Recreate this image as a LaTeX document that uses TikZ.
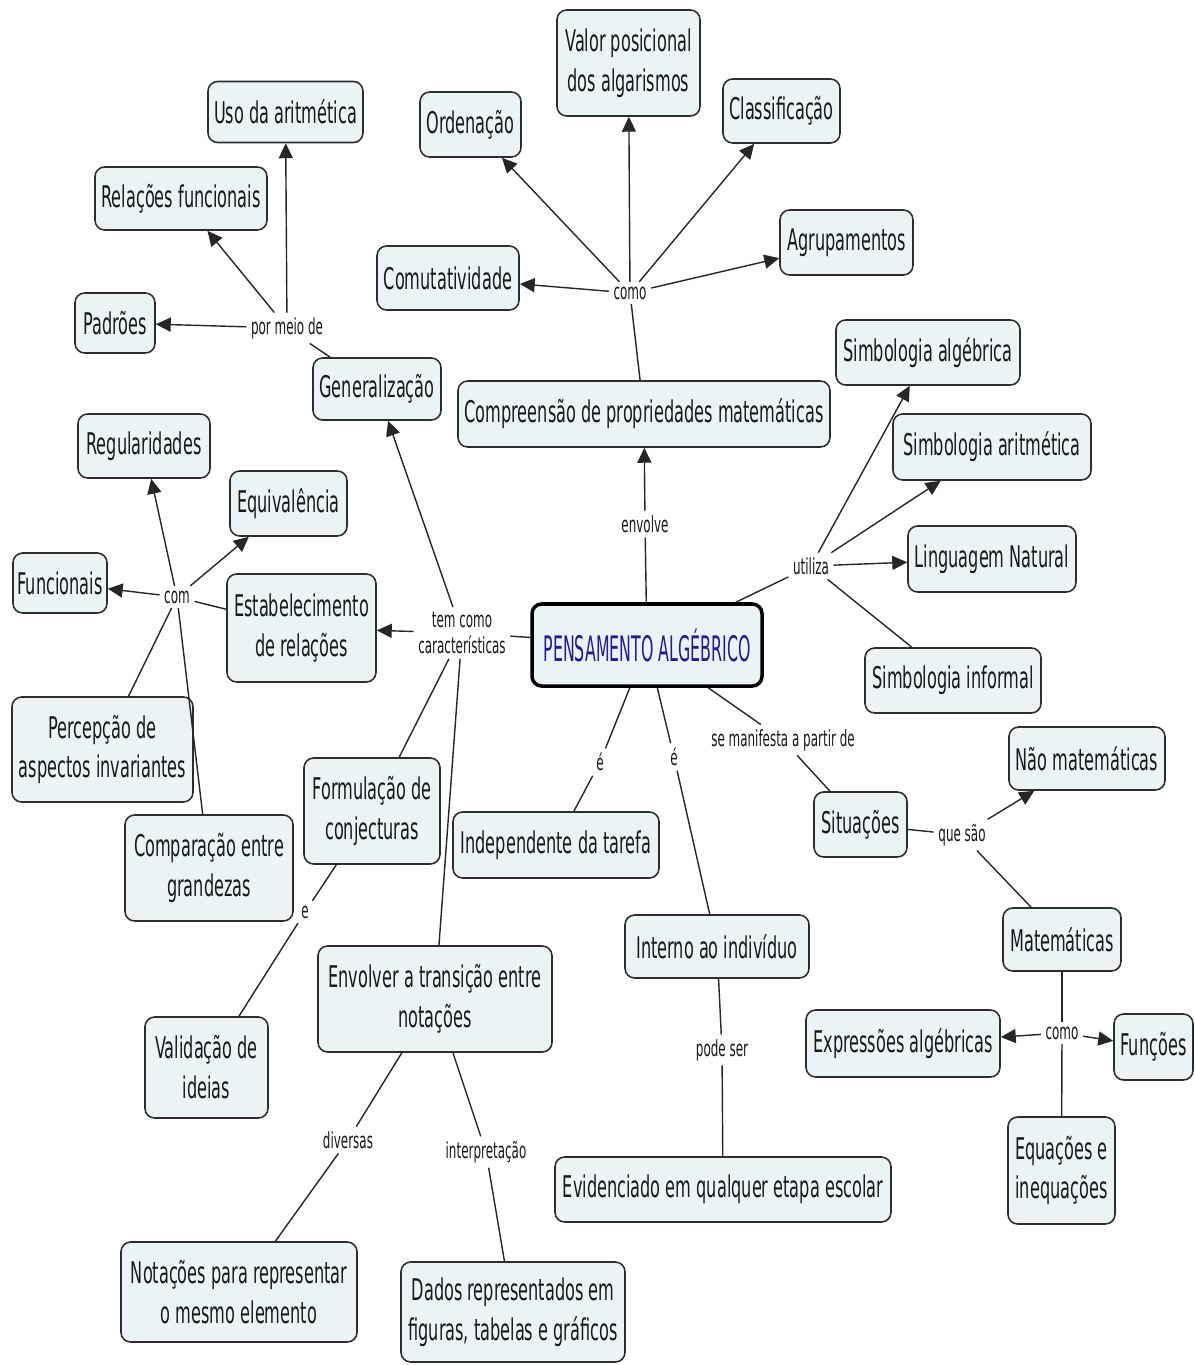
\documentclass[tikz,border=0pt]{standalone}
\usepackage{fontspec}
\setmainfont{DejaVu Sans}[FakeStretch=0.54]
\newfontfamily\pafont{DejaVu Sans}[FakeStretch=0.45]
\usetikzlibrary{arrows.meta}
\definecolor{boxfill}{RGB}{235,243,246}
\definecolor{boxline}{RGB}{45,45,45}
\definecolor{pablue}{RGB}{30,30,140}
\newcommand{\px}{0.02}
\newcommand{\cbox}[5]{\node[concept, minimum width=#3*\px cm, minimum height=#4*\px cm] (#1) at (#2) {#5};}
\newcommand{\lword}[3]{\node[linkword] (#1) at (#2) {#3};}
\tikzset{
  concept/.style={draw=boxline, fill=boxfill, line width=0.9pt, rounded corners=5.5pt,
    align=center, inner sep=2pt, text=black!90, font=\fontsize{17}{22.7}\selectfont},
  linkword/.style={align=center, inner sep=2.5pt, text=black!90,
    font=\fontsize{12.6}{15}\selectfont},
  conn/.style={draw=black!85, line width=0.8pt},
  connarr/.style={conn, -{Triangle[length=8.5pt,width=8pt]}},
}
\begin{document}
\begin{tikzpicture}[x=\px cm, y=-\px cm]
    \useasboundingbox (0,0) rectangle (1194,1365);

    % concepts
    \node[concept, draw=black, line width=2pt, minimum width=230*\px cm, minimum height=82*\px cm,
      text=pablue, font=\pafont\fontsize{20}{24}\selectfont] (pa) at (647,645) {PENSAMENTO ALGÉBRICO};
    \cbox{compr}{644,414}{372}{66}{Compreensão de propriedades matemáticas}
    \cbox{orden}{470.5,124.5}{101}{65}{Ordenação}
    \cbox{valor}{628.5,63}{143}{106}{Valor posicional\\dos algarismos}
    \cbox{classif}{781.5,111}{117}{64}{Classificação}
    \cbox{agrup}{846.5,242.5}{133}{65}{Agrupamentos}
    \cbox{comut}{448,278}{142}{64}{Comutatividade}
    \cbox{uso}{285.5,112}{155}{61}{Uso da aritmética}
    \cbox{relfun}{181,198.5}{172}{63}{Relações funcionais}
    \cbox{padroes}{115,323}{80}{60}{Padrões}
    \cbox{gen}{377,389}{128}{62}{Generalização}
    \cbox{simbalg}{928,352.5}{184}{65}{Simbologia algébrica}
    \cbox{simbar}{992,447}{198}{66}{Simbologia aritmética}
    \cbox{lingnat}{992,559}{168}{66}{Linguagem Natural}
    \cbox{simbinf}{953,680.5}{176}{65}{Simbologia informal}
    \cbox{regul}{144,446}{132}{64}{Regularidades}
    \cbox{equiv}{288.5,503.5}{117}{65}{Equivalência}
    \cbox{func}{60,583}{94}{60}{Funcionais}
    \cbox{estab}{301.5,628}{149}{108}{Estabelecimento\\de relações}
    \cbox{percep}{102.5,749.5}{181}{105}{Percepção de\\aspectos invariantes}
    \cbox{compar}{209,868}{168}{106}{Comparação entre\\grandezas}
    \cbox{formul}{372,811}{136}{106}{Formulação de\\conjecturas}
    \cbox{valid}{206.5,1067.5}{123}{101}{Validação de\\ideias}
    \cbox{envolver}{435,999}{234}{106}{Envolver a transição entre\\notações}
    \cbox{notac}{239,1292}{236}{100}{Notações para representar\\o mesmo elemento}
    \cbox{dados}{513,1312}{224}{100}{Dados representados em\\figuras, tabelas e gráficos}
    \cbox{indep}{556,845}{206}{66}{Independente da tarefa}
    \cbox{interno}{717,946.5}{184}{63}{Interno ao indivíduo}
    \cbox{evid}{723,1189.5}{336}{65}{Evidenciado em qualquer etapa escolar}
    \cbox{situac}{860.5,824.5}{93}{65}{Situações}
    \cbox{naomat}{1087,758.5}{156}{63}{Não matemáticas}
    \cbox{matem}{1062,939.5}{118}{63}{Matemáticas}
    \cbox{expr}{903,1043.5}{194}{67}{Expressões algébricas}
    \cbox{funcoes}{1153.5,1047}{79}{66}{Funções}
    \cbox{equac}{1061.5,1170.5}{107}{107}{Equações e\\inequações}

    % linking words
    \lword{envolve}{645,524}{envolve}
    \lword{comoA}{630,293}{como}
    \lword{pormeio}{287,328}{por meio de}
    \lword{utiliza}{811,566}{utiliza}
    \lword{temcomo}{462,633}{tem como\\características}
    \lword{com}{177,597}{com}
    \lword{eA}{305,912}{e}
    \lword{diversas}{348,1140}{diversas}
    \lword{interp}{486,1152}{interpretação}
    \lword{eB}{600,762}{é}
    \lword{eC}{674,757}{é}
    \lword{podeser}{722,1050}{pode ser}
    \lword{semanif}{783,740}{se manifesta a partir de}
    \lword{quesao}{962,835}{que são}
    \lword{comoB}{1062,1033}{como}

    % connectors
    \draw[conn] (pa) -- (envolve);
    \draw[connarr] (envolve) -- (compr);
    \draw[conn] (compr) -- (comoA);
    \foreach \t in {comut, orden, valor, classif, agrup} \draw[connarr] (comoA) -- (\t);

    \draw[conn] (pa) -- (utiliza);
    \foreach \t in {simbalg, simbar, lingnat} \draw[connarr] (utiliza) -- (\t);
    \draw[conn] (utiliza) -- (simbinf);

    \draw[conn] (pa) -- (temcomo);
    \draw[connarr] (temcomo) -- (gen);
    \draw[connarr] (temcomo) -- (estab);
    \draw[conn] (temcomo) -- (formul);
    \draw[conn] (temcomo) -- (envolver);

    \draw[conn] (gen) -- (pormeio);
    \foreach \t in {padroes, relfun, uso} \draw[connarr] (pormeio) -- (\t);

    \draw[conn] (estab) -- (com);
    \foreach \t in {func, equiv, regul} \draw[connarr] (com) -- (\t);
    \draw[conn] (com) -- (percep);
    \draw[conn] (com) -- (compar);

    \draw[conn] (formul) -- (eA);
    \draw[conn] (eA) -- (valid);
    \draw[conn] (envolver) -- (diversas);
    \draw[conn] (diversas) -- (notac);
    \draw[conn] (envolver) -- (interp);
    \draw[conn] (interp) -- (dados);

    \draw[conn] (pa) -- (eB);
    \draw[conn] (eB) -- (indep);
    \draw[conn] (pa) -- (eC);
    \draw[conn] (eC) -- (interno);
    \draw[conn] (interno) -- (podeser);
    \draw[conn] (podeser) -- (evid);

    \draw[conn] (pa) -- (semanif);
    \draw[conn] (semanif) -- (situac);
    \draw[conn] (situac) -- (quesao);
    \draw[connarr] (quesao) -- (naomat);
    \draw[conn] (quesao) -- (matem);
    \draw[conn] (matem) -- (comoB);
    \draw[connarr] (comoB) -- (expr);
    \draw[connarr] (comoB) -- (funcoes);
    \draw[conn] (comoB) -- (equac);
\end{tikzpicture}
\end{document}
